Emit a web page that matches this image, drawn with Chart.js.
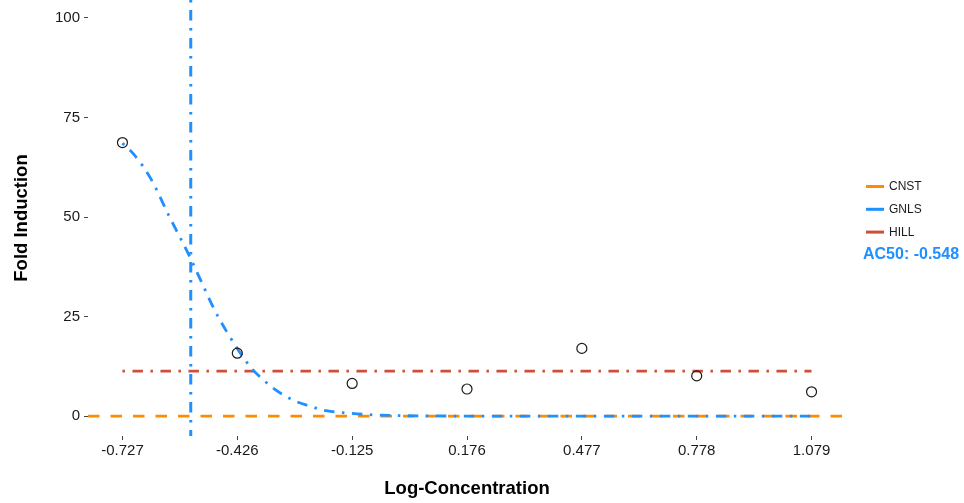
<!DOCTYPE html>
<html>
<head>
<meta charset="utf-8">
<script src="https://cdn.jsdelivr.net/npm/chart.js@4.4.1/dist/chart.umd.min.js"></script>
<style>
  html, body { margin: 0; padding: 0; background: #ffffff; }
  canvas { display: block; }
</style>
</head>
<body>
<canvas id="c" width="964" height="503"></canvas>
<script>
// Observed responses at each log-concentration
const logConc = [-0.727, -0.426, -0.125, 0.176, 0.477, 0.778, 1.079];
const foldInduction = [68.7, 15.8, 8.2, 6.8, 17.0, 10.1, 6.1];
const xTickLabels = ['-0.727', '-0.426', '-0.125', '0.176', '0.477', '0.778', '1.079'];
const yTicks = [0, 25, 50, 75, 100];

// Fitted gain-loss (GNLS) curve, sampled along the concentration range
const gnlsX = [-0.727, -0.696, -0.652, -0.604, -0.553, -0.520, -0.490, -0.455, -0.389, -0.367, -0.332, -0.280, -0.236, -0.201, -0.131, -0.052, 0.070, 0.300, 0.600, 0.900, 1.079];
const gnlsY = [68.5, 65.6, 59.5, 50.1, 40.5, 33.7, 27.5, 21.4, 12.0, 9.9, 7.0, 4.0, 2.5, 1.5, 0.7, 0.25, 0.05, 0, 0, 0, 0];

// Constant and Hill model levels, and the GNLS AC50
const cnstLevel = 0;
const hillLevel = 11.3;
const ac50 = -0.548;

const modelNames = ['CNST', 'GNLS', 'HILL'];
const modelColors = ['#FF8C00', '#1E90FF', '#CD4F39'];

// Axis limits with a 5% margin around the data
const xLo = logConc[0] - 0.05 * (logConc[logConc.length - 1] - logConc[0]);
const xHi = logConc[logConc.length - 1] + 0.05 * (logConc[logConc.length - 1] - logConc[0]);
const yLo = -5;
const yHi = 104.5;

const FONT = '"Liberation Sans", Arial, Helvetica, sans-serif';
const dotDash = [2.5, 7.5, 10.5, 7.5];

// Draw the model key and AC50 label to the right of the panel
const legendPlugin = {
  id: 'modelLegend',
  afterDraw(chart) {
    const { ctx, chartArea } = chart;
    const x0 = chartArea.right + 20;
    const yStart = 186.5;
    const step = 22.8;
    ctx.save();
    modelNames.forEach((name, i) => {
      const y = yStart + i * step;
      ctx.strokeStyle = modelColors[i];
      ctx.lineWidth = 3;
      ctx.setLineDash([]);
      ctx.beginPath();
      ctx.moveTo(x0, y);
      ctx.lineTo(x0 + 18, y);
      ctx.stroke();
      ctx.fillStyle = '#1a1a1a';
      ctx.font = '12px ' + FONT;
      ctx.textBaseline = 'middle';
      ctx.textAlign = 'left';
      ctx.fillText(name, x0 + 23, y + 0.5);
    });
    ctx.fillStyle = modelColors[1];
    ctx.font = 'bold 16px ' + FONT;
    ctx.textBaseline = 'middle';
    ctx.fillText('AC50: ' + ac50.toFixed(3), x0 - 3, yStart + 3 * step);
    ctx.restore();
  }
};

function noEdgePadding(scale) {
  scale.paddingTop = 0;
  scale.paddingBottom = 0;
  scale.paddingLeft = 0;
  scale.paddingRight = 0;
}

new Chart(document.getElementById('c'), {
  type: 'scatter',
  data: {
    datasets: [
      {
        label: modelNames[0],
        type: 'line',
        data: [{ x: xLo, y: cnstLevel }, { x: xHi, y: cnstLevel }],
        borderColor: modelColors[0],
        borderWidth: 2.8,
        borderDash: [11.5, 11],
        pointRadius: 0,
        fill: false,
        order: 5
      },
      {
        label: modelNames[2],
        type: 'line',
        data: [{ x: logConc[0], y: hillLevel }, { x: logConc[logConc.length - 1], y: hillLevel }],
        borderColor: modelColors[2],
        borderWidth: 2.8,
        borderDash: dotDash,
        pointRadius: 0,
        fill: false,
        order: 4
      },
      {
        label: modelNames[1],
        type: 'line',
        data: gnlsX.map((x, i) => ({ x, y: gnlsY[i] })),
        borderColor: modelColors[1],
        borderWidth: 2.8,
        borderDash: dotDash,
        cubicInterpolationMode: 'monotone',
        pointRadius: 0,
        fill: false,
        order: 3
      },
      {
        label: 'AC50',
        type: 'line',
        data: [{ x: ac50, y: yHi }, { x: ac50, y: yLo }],
        borderColor: modelColors[1],
        borderWidth: 3,
        borderDash: dotDash,
        pointRadius: 0,
        fill: false,
        order: 2
      },
      {
        label: 'Response',
        data: logConc.map((x, i) => ({ x, y: foldInduction[i] })),
        pointRadius: 5,
        pointHoverRadius: 5,
        pointBorderWidth: 1.2,
        borderColor: '#1a1a1a',
        backgroundColor: 'rgba(0,0,0,0)',
        order: 1
      }
    ]
  },
  options: {
    responsive: false,
    animation: false,
    devicePixelRatio: 1,
    layout: { autoPadding: false, padding: { top: 0, right: 118, bottom: 0, left: 0 } },
    plugins: {
      legend: { display: false },
      tooltip: { enabled: false }
    },
    scales: {
      x: {
        type: 'linear',
        min: xLo,
        max: xHi,
        afterBuildTicks(scale) {
          scale.ticks = logConc.map(v => ({ value: v }));
        },
        afterFit(scale) { scale.height = 67; noEdgePadding(scale); },
        ticks: {
          autoSkip: false,
          maxRotation: 0,
          padding: 2,
          color: '#1a1a1a',
          font: { family: FONT, size: 15 },
          callback(value, index) { return xTickLabels[index]; }
        },
        grid: {
          drawOnChartArea: false,
          drawTicks: true,
          tickLength: 4,
          color: '#444'
        },
        border: { display: false },
        title: {
          display: true,
          text: 'Log-Concentration',
          color: '#000',
          font: { family: FONT, size: 18.5, weight: 'bold' },
          padding: { top: 0, bottom: 3 }
        }
      },
      y: {
        type: 'linear',
        min: yLo,
        max: yHi,
        afterBuildTicks(scale) {
          scale.ticks = yTicks.map(v => ({ value: v }));
        },
        afterFit(scale) { scale.width = 88; noEdgePadding(scale); },
        ticks: {
          padding: 4,
          color: '#1a1a1a',
          font: { family: FONT, size: 15 }
        },
        grid: {
          drawOnChartArea: false,
          drawTicks: true,
          tickLength: 4,
          color: '#444'
        },
        border: { display: false },
        title: {
          display: true,
          text: 'Fold Induction',
          color: '#000',
          font: { family: FONT, size: 18.5, weight: 'bold' },
          padding: { top: 11, bottom: 0 }
        }
      }
    }
  },
  plugins: [legendPlugin]
});
</script>
</body>
</html>
